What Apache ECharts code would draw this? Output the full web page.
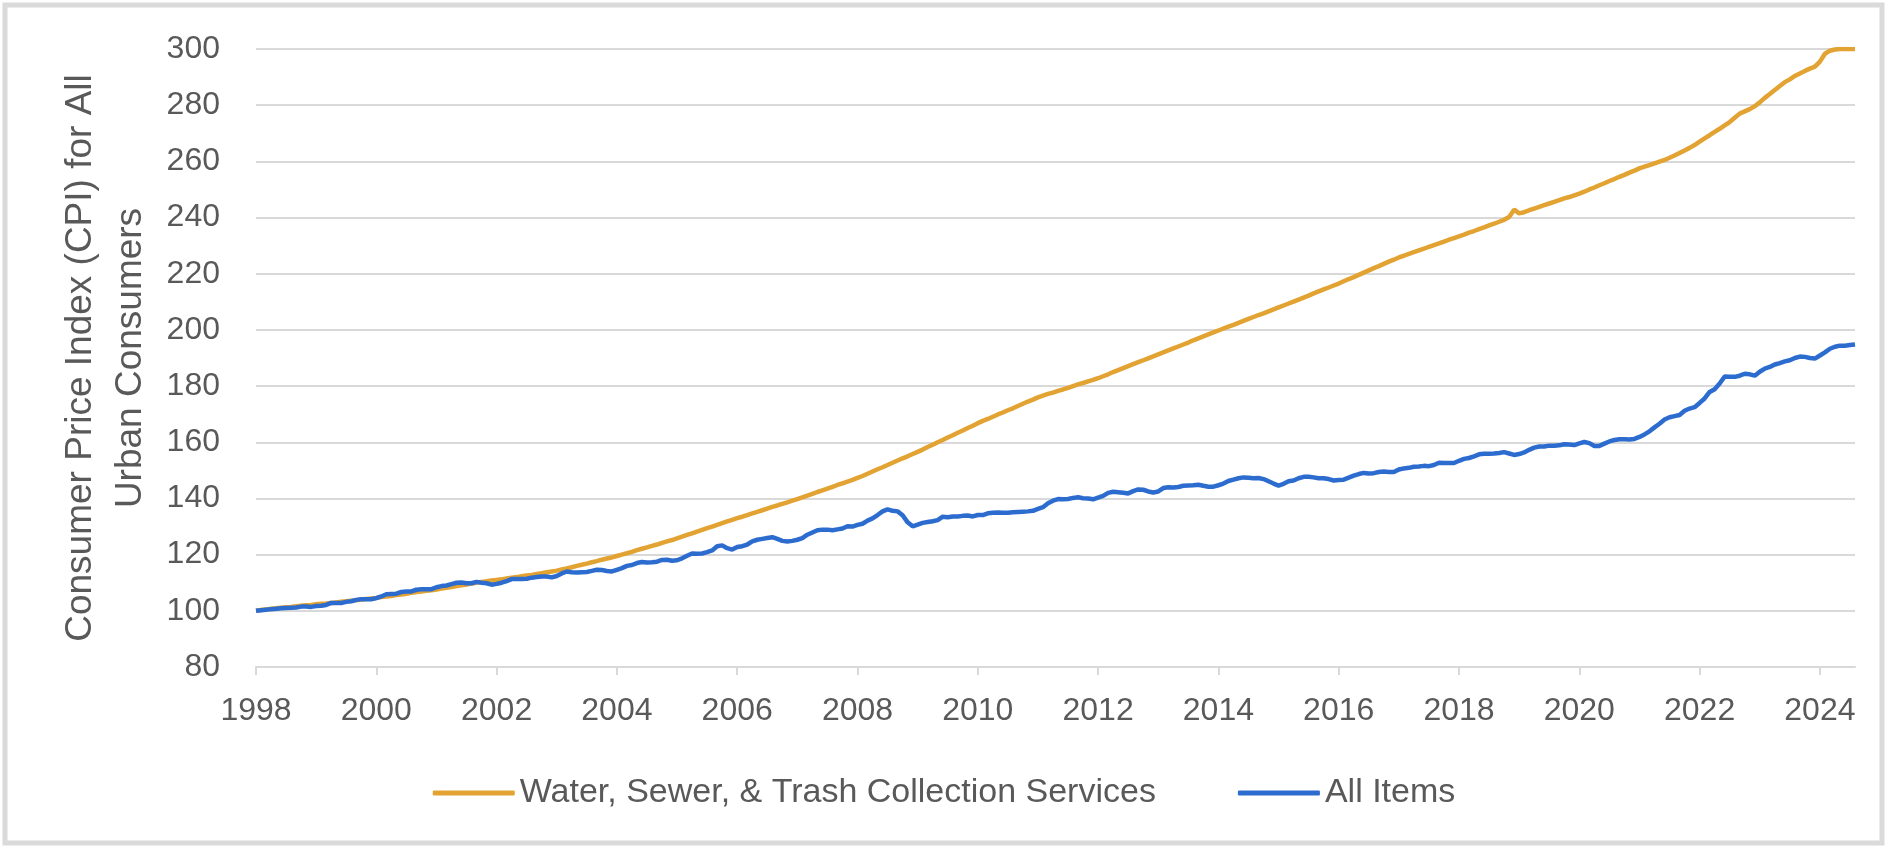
<!DOCTYPE html>
<html>
<head>
<meta charset="utf-8">
<title>CPI - Water, Sewer & Trash vs All Items</title>
<script src="https://cdn.jsdelivr.net/npm/echarts@6/dist/echarts.min.js"></script>
<style>
html, body {
  margin: 0;
  padding: 0;
  background: #fff;
}
#cpiLine {
  width: 1888px;
  height: 848px;
}
</style>
</head>
<body>
<div id="cpiLine"></div>
<script>
// monthly, Jan 1998 = 100
const firstYear = 1998
const monthCount = 320 // Jan 1998 .. Aug 2024
const yTicks = { min: 80, max: 300, step: 20 }

const waterSewerTrash = [
  100.0, 100.3, 100.5, 100.7, 100.9, 101.1, 101.3, 101.4, 101.6, 101.8, 102.0, 102.1,
  102.3, 102.5, 102.6, 102.8, 103.0, 103.2, 103.4, 103.6, 103.8, 104.0, 104.2, 104.4,
  104.6, 104.9, 105.1, 105.3, 105.6, 105.8, 106.1, 106.4, 106.7, 106.9, 107.1, 107.3,
  107.6, 107.9, 108.2, 108.5, 108.8, 109.1, 109.4, 109.7, 110.0, 110.3, 110.5, 110.8,
  111.0, 111.2, 111.5, 111.8, 112.0, 112.3, 112.6, 112.8, 113.1, 113.4, 113.7, 114.0,
  114.3, 114.7, 115.1, 115.5, 116.0, 116.4, 116.8, 117.3, 117.7, 118.2, 118.6, 119.0,
  119.5, 120.0, 120.5, 121.0, 121.6, 122.1, 122.6, 123.1, 123.6, 124.2, 124.7, 125.2,
  125.8, 126.4, 127.0, 127.6, 128.2, 128.8, 129.4, 130.0, 130.6, 131.2, 131.8, 132.4,
  133.0, 133.5, 134.1, 134.7, 135.2, 135.8, 136.4, 137.0, 137.5, 138.1, 138.6, 139.2,
  139.8, 140.4, 141.0, 141.6, 142.3, 142.9, 143.5, 144.1, 144.8, 145.4, 146.0, 146.6,
  147.3, 148.0, 148.8, 149.6, 150.4, 151.1, 151.9, 152.7, 153.5, 154.3, 155.0, 155.8,
  156.6, 157.4, 158.3, 159.1, 160.0, 160.8, 161.7, 162.5, 163.4, 164.2, 165.1, 165.9,
  166.8, 167.6, 168.3, 169.1, 169.9, 170.6, 171.4, 172.1, 172.9, 173.7, 174.5, 175.2,
  176.0, 176.6, 177.2, 177.7, 178.3, 178.8, 179.4, 180.0, 180.6, 181.1, 181.7, 182.2,
  182.8, 183.5, 184.2, 185.0, 185.7, 186.4, 187.1, 187.8, 188.5, 189.2, 189.9, 190.6,
  191.3, 192.0, 192.7, 193.4, 194.1, 194.8, 195.5, 196.3, 197.0, 197.7, 198.4, 199.1,
  199.8, 200.5, 201.2, 201.8, 202.5, 203.2, 203.9, 204.6, 205.3, 205.9, 206.6, 207.3,
  208.0, 208.7, 209.4, 210.1, 210.8, 211.5, 212.2, 213.0, 213.7, 214.4, 215.1, 215.8,
  216.5, 217.3, 218.1, 218.8, 219.6, 220.4, 221.2, 222.0, 222.7, 223.5, 224.3, 225.0,
  225.8, 226.4, 227.1, 227.7, 228.3, 228.9, 229.6, 230.2, 230.8, 231.4, 232.1, 232.7,
  233.3, 233.9, 234.6, 235.2, 235.9, 236.5, 237.2, 237.8, 238.5, 239.2, 240.2, 242.8,
  241.5, 241.9, 242.6, 243.2, 243.8, 244.4, 245.0, 245.6, 246.2, 246.8, 247.3, 247.9,
  248.5, 249.2, 250.0, 250.7, 251.5, 252.2, 253.0, 253.7, 254.5, 255.2, 256.0, 256.7,
  257.5, 258.1, 258.7, 259.3, 259.9, 260.5, 261.3, 262.1, 263.0, 263.9, 264.8, 265.8,
  267.0, 268.2, 269.3, 270.5, 271.6, 272.8, 274.0, 275.5, 277.0, 277.8, 278.6, 279.6,
  281.0, 282.6, 284.0, 285.4, 286.8, 288.2, 289.2, 290.4, 291.3, 292.2, 293.0, 293.7,
  295.5, 298.3, 299.4, 299.8, 300.0, 300.0, 300.0, 300.0
]

const allItems = [
  100.0, 100.2, 100.4, 100.6, 100.7, 100.9, 101.0, 101.1, 101.2, 101.5, 101.5, 101.4,
  101.7, 101.8, 102.1, 102.8, 102.8, 102.8, 103.2, 103.4, 103.9, 104.1, 104.1, 104.1,
  104.5, 105.1, 105.9, 106.0, 106.1, 106.7, 106.9, 106.9, 107.5, 107.7, 107.7, 107.7,
  108.4, 108.8, 109.0, 109.5, 110.0, 110.1, 109.8, 109.8, 110.3, 110.0, 109.8, 109.3,
  109.6, 110.0, 110.6, 111.3, 111.3, 111.3, 111.4, 111.8, 112.0, 112.2, 112.2, 111.9,
  112.4, 113.3, 114.0, 113.7, 113.6, 113.7, 113.8, 114.2, 114.6, 114.5, 114.2, 114.0,
  114.6, 115.2, 116.0, 116.3, 117.0, 117.4, 117.2, 117.3, 117.5, 118.1, 118.2, 117.8,
  118.0, 118.7, 119.6, 120.4, 120.3, 120.4, 120.9, 121.5, 123.0, 123.3, 122.3, 121.8,
  122.7, 123.0, 123.6, 124.7, 125.3, 125.6, 125.9, 126.2, 125.6, 124.9, 124.7, 124.9,
  125.3, 125.9, 127.1, 127.9, 128.7, 128.9, 128.9, 128.7, 129.0, 129.3, 130.1, 130.0,
  130.6, 131.0, 132.1, 132.9, 134.1, 135.4, 136.1, 135.6, 135.4, 134.0, 131.5, 130.1,
  130.7, 131.3, 131.6, 131.9, 132.3, 133.5, 133.3, 133.6, 133.6, 133.8, 133.9, 133.6,
  134.1, 134.1, 134.7, 134.9, 135.0, 134.9, 134.9, 135.1, 135.2, 135.3, 135.4, 135.6,
  136.3, 136.9, 138.3, 139.2, 139.8, 139.7, 139.8, 140.2, 140.4, 140.1, 140.0, 139.7,
  140.3, 140.9, 142.0, 142.4, 142.2, 142.0, 141.8, 142.6, 143.2, 143.1, 142.5, 142.1,
  142.5, 143.7, 144.0, 143.9, 144.1, 144.5, 144.6, 144.7, 144.9, 144.5, 144.2, 144.2,
  144.7, 145.3, 146.2, 146.7, 147.2, 147.5, 147.4, 147.2, 147.3, 146.9, 146.1, 145.3,
  144.6, 145.2, 146.1, 146.4, 147.2, 147.7, 147.7, 147.5, 147.2, 147.2, 146.9, 146.4,
  146.6, 146.7, 147.4, 148.1, 148.7, 149.1, 148.9, 149.0, 149.4, 149.6, 149.4, 149.4,
  150.3, 150.7, 150.9, 151.3, 151.4, 151.6, 151.5, 151.9, 152.7, 152.6, 152.6, 152.6,
  153.4, 154.1, 154.4, 155.0, 155.7, 155.9, 155.9, 156.0, 156.2, 156.5, 156.0, 155.5,
  155.8, 156.4, 157.3, 158.1, 158.5, 158.5, 158.8, 158.8, 158.9, 159.3, 159.2, 159.0,
  159.6, 160.1, 159.7, 158.7, 158.7, 159.5, 160.3, 160.8, 161.1, 161.1, 161.0, 161.2,
  161.9, 162.8, 163.9, 165.3, 166.6, 168.1, 168.9, 169.3, 169.7, 171.2, 172.0, 172.5,
  174.0, 175.6, 177.9, 178.9, 180.9, 183.4, 183.3, 183.3, 183.7, 184.4, 184.2, 183.7,
  185.1, 186.2, 186.8, 187.7, 188.2, 188.8, 189.2, 190.0, 190.5, 190.4, 190.0, 189.8,
  190.9, 192.0, 193.3, 194.0, 194.4, 194.4, 194.6, 194.8
]

const months = []
for (let i = 0; i < monthCount; i++) {
  const y = firstYear + Math.floor(i / 12)
  const m = (i % 12) + 1
  months.push(y + '-' + (m < 10 ? '0' + m : m))
}

const fontFamily = `'Liberation Sans', Arial, Helvetica, sans-serif`
const textGrey = '#595959'
const gridGrey = '#d9d9d9'
const isTickMonth = (index) => index % 24 === 0

const cpiLine = echarts.init(document.getElementById('cpiLine'))

const cpiLineOption = {
  animation: false,
  backgroundColor: '#fff',
  graphic: [
    {
      type: 'rect',
      silent: true,
      shape: { x: 5, y: 5, width: 1877, height: 838 },
      style: { fill: 'none', stroke: '#dadada', lineWidth: 5 }
    }
  ],
  legend: {
    left: 'center',
    top: 771,
    icon: 'roundRect',
    itemWidth: 82,
    itemHeight: 5,
    itemGap: 82,
    textStyle: {
      color: textGrey,
      fontSize: 34,
      fontFamily: fontFamily
    }
  },
  grid: {
    left: 256,
    right: 33,
    top: 49,
    bottom: 181,
    containLabel: false
  },
  xAxis: {
    type: 'category',
    boundaryGap: false,
    data: months,
    axisLine: {
      lineStyle: { color: gridGrey, width: 2 }
    },
    axisTick: {
      show: true,
      length: 8,
      interval: isTickMonth,
      lineStyle: { color: gridGrey, width: 2 }
    },
    axisLabel: {
      interval: isTickMonth,
      margin: 28,
      color: textGrey,
      fontSize: 32,
      fontFamily: fontFamily,
      formatter: (value) => value.slice(0, 4)
    },
    splitLine: { show: false }
  },
  yAxis: {
    type: 'value',
    min: yTicks.min,
    max: yTicks.max,
    interval: yTicks.step,
    name: 'Consumer Price Index (CPI) for All\nUrban Consumers',
    nameLocation: 'middle',
    nameGap: 100,
    nameTextStyle: {
      color: textGrey,
      fontSize: 37,
      lineHeight: 50,
      fontFamily: fontFamily
    },
    axisLine: { show: false },
    axisTick: { show: false },
    axisLabel: {
      margin: 36,
      color: textGrey,
      fontSize: 32,
      fontFamily: fontFamily
    },
    splitLine: {
      lineStyle: { color: gridGrey, width: 2 }
    }
  },
  series: [
    {
      name: 'Water, Sewer, & Trash Collection Services',
      type: 'line',
      symbol: 'none',
      data: waterSewerTrash,
      lineStyle: { color: '#e2a332', width: 4.5 },
      itemStyle: { color: '#e2a332' }
    },
    {
      name: 'All Items',
      type: 'line',
      symbol: 'none',
      data: allItems,
      lineStyle: { color: '#2c6ccf', width: 4.5 },
      itemStyle: { color: '#2c6ccf' }
    }
  ]
}

cpiLine.setOption(cpiLineOption)
</script>
</body>
</html>
